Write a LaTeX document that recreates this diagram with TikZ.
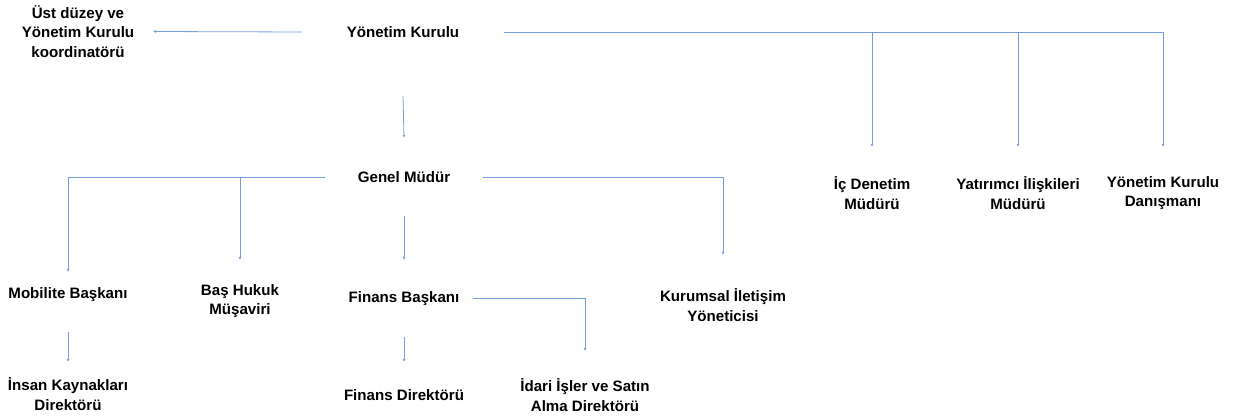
\documentclass[tikz,border=0pt]{standalone}
\usepackage{fontspec}
\setmainfont{Liberation Sans}
\usetikzlibrary{arrows.meta}
\definecolor{linkblue}{RGB}{118,155,222}
\tikzset{
  unit/.style={font=\bfseries\fontsize{15.1}{19.5}\selectfont, align=center, inner sep=0pt},
  link/.style={draw=linkblue, line width=0.8pt, -{Latex[length=3pt,width=3pt]}},
}

\begin{document}
\begin{tikzpicture}[x=1pt,y=-1pt]
            \useasboundingbox (0,0) rectangle (1236,417);
            \node[unit, minimum width=150pt, minimum height=60pt] (ust) at (78, 31.5) {Üst düzey ve\\Yönetim Kurulu\\koordinatörü};
            \node[unit, minimum width=202pt, minimum height=128pt] (yk) at (403, 32) {Yönetim Kurulu};
            \node[unit, minimum height=92pt] (ic) at (872, 193) {İç Denetim\\Müdürü};
            \node[unit, minimum height=92pt] (yat) at (1018, 193) {Yatırımcı İlişkileri\\Müdürü};
            \node[unit, minimum height=92pt] (dan) at (1163, 193) {Yönetim Kurulu\\Danışmanı};
            \node[unit, minimum width=158pt, minimum height=78pt] (gm) at (404, 177) {Genel Müdür};
            \node[unit, minimum height=46pt] (mob) at (68, 295) {Mobilite Başkanı};
            \node[unit, minimum height=82pt] (hukuk) at (240, 301) {Baş Hukuk\\Müşaviri};
            \node[unit, minimum width=138pt, minimum height=77pt] (fb) at (404, 298.5) {Finans Başkanı};
            \node[unit, minimum height=100pt] (kur) at (723, 305) {Kurumsal İletişim\\Yöneticisi};
            \node[unit, minimum height=64pt] (ik) at (68, 394) {İnsan Kaynakları\\Direktörü};
            \node[unit, minimum height=66pt] (fd) at (404, 395) {Finans Direktörü};
            \node[unit, minimum height=88pt] (idari) at (585, 395) {İdari İşler ve Satın\\Alma Direktörü};
            \draw[link] (yk.west) -- (ust.east);
            \draw[link] (yk.south) -- (gm.north);
            \draw[link] (yk.east) -| (dan.north);
            \draw[link] (ic.north |- yk.east) -- (ic.north);
            \draw[link] (yat.north |- yk.east) -- (yat.north);
            \draw[link] (gm.west) -| (mob.north);
            \draw[link] (hukuk.north |- gm.west) -- (hukuk.north);
            \draw[link] (gm.east) -| (kur.north);
            \draw[link] (gm.south) -- (fb.north);
            \draw[link] (fb.east) -| (idari.north);
            \draw[link] (fb.south) -- (fd.north);
            \draw[link, shorten <=14pt] (mob.south) -- (ik.north);
        \end{tikzpicture}
\end{document}
